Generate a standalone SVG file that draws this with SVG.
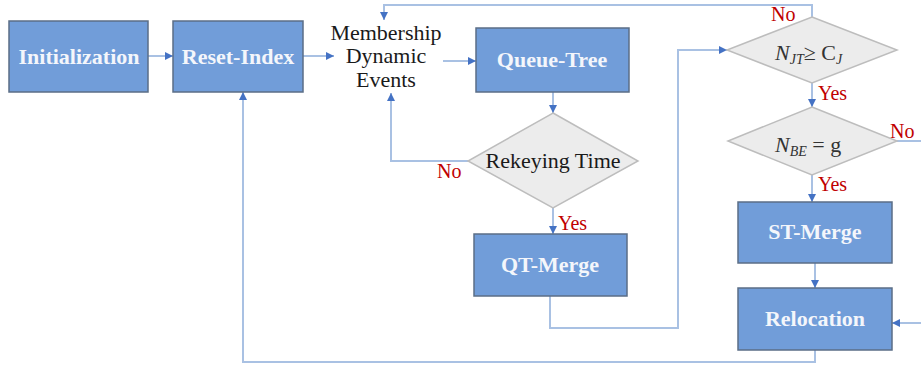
<svg xmlns="http://www.w3.org/2000/svg" width="921" height="367" viewBox="0 0 921 367">
<style>
.box{fill:#719dd9;stroke:#5b6e86;stroke-width:1.5}
.dia{fill:#ececec;stroke:#bdbdbd;stroke-width:1.5}
.bt{font-family:'Liberation Serif','Times New Roman','DejaVu Serif',serif;font-weight:bold;font-size:22px;fill:#f4f6fb;text-anchor:middle}
.nt{font-family:'Liberation Serif','Times New Roman','DejaVu Serif',serif;font-size:22px;fill:#1a1a1a;text-anchor:middle}
.lab{font-family:'Liberation Serif','Times New Roman','DejaVu Serif',serif;font-size:20px;fill:#c00000}
.ln{fill:none;stroke:#a9c1e3;stroke-width:2}
.mt{font-family:'Liberation Serif','Times New Roman','DejaVu Serif',serif;font-size:22px;font-style:italic;fill:#333}
</style>
<defs>
<marker id="ah" viewBox="0 0 10 10" refX="10" refY="5" markerWidth="9" markerHeight="8" markerUnits="userSpaceOnUse" orient="auto">
<path d="M0,0 L10,5 L0,10 z" fill="#4472c4"/>
</marker>
</defs>
<g id="connectors">
<path class="ln" d="M148,56 L173,56" marker-end="url(#ah)"/>
<path class="ln" d="M303,56 L334,56" marker-end="url(#ah)"/>
<path class="ln" d="M443,61 L476,61" marker-end="url(#ah)"/>
<path class="ln" d="M553,92 L553,113" marker-end="url(#ah)"/>
<path class="ln" d="M468,161 L391,161 L391,93" marker-end="url(#ah)"/>
<path class="ln" d="M553,208 L553,234" marker-end="url(#ah)"/>
<path class="ln" d="M550,296 L550,328 L678,328 L678,50 L727,50" marker-end="url(#ah)"/>
<path class="ln" d="M812,17 L812,5 L384,5 L384,20" marker-end="url(#ah)"/>
<path class="ln" d="M812,83 L812,107" marker-end="url(#ah)"/>
<path class="ln" d="M812,175 L812,202" marker-end="url(#ah)"/>
<path class="ln" d="M897,141 L923,141"/>
<path class="ln" d="M923,323 L892,323" marker-end="url(#ah)"/>
<path class="ln" d="M815,263 L815,288" marker-end="url(#ah)"/>
<path class="ln" d="M815,350 L815,362 L243,362 L243,92" marker-end="url(#ah)"/>
<text class="lab" x="437" y="178">No</text>
<text class="lab" x="558" y="230">Yes</text>
<text class="lab" x="771" y="21">No</text>
<text class="lab" x="818" y="100">Yes</text>
<text class="lab" x="890" y="138">No</text>
<text class="lab" x="818" y="191">Yes</text>
</g>
<g id="initialization">
<rect class="box" x="9" y="21" width="139" height="71"/>
<text class="bt" x="79" y="64">Initialization</text>
</g>
<g id="reset-index">
<rect class="box" x="173" y="21" width="130" height="71"/>
<text class="bt" x="238" y="64">Reset-Index</text>
</g>
<g id="membership">
<text class="nt" x="386" y="40">Membership</text>
<text class="nt" x="386" y="63">Dynamic</text>
<text class="nt" x="386" y="87">Events</text>
</g>
<g id="queue-tree">
<rect class="box" x="476" y="28" width="153" height="64"/>
<text class="bt" x="552" y="67">Queue-Tree</text>
</g>
<g id="rekeying">
<polygon class="dia" points="553,113 638,161 553,208 468,161"/>
<text class="nt" x="553" y="168">Rekeying Time</text>
</g>
<g id="qt-merge">
<rect class="box" x="474" y="234" width="153" height="62"/>
<text class="bt" x="550" y="272">QT-Merge</text>
</g>
<g id="njt">
<polygon class="dia" points="812,17 897,50 812,83 727,50"/>
<text class="mt" x="775" y="60">N<tspan font-size="14" dy="4">JT</tspan><tspan dy="-4" font-style="normal">≥ C</tspan><tspan font-size="14" dy="4">J</tspan></text>
</g>
<g id="nbe">
<polygon class="dia" points="812,107 897,141 812,175 728,141"/>
<text class="mt" x="775" y="152">N<tspan font-size="14" dy="4">BE</tspan><tspan dy="-4" font-style="normal"> = g</tspan></text>
</g>
<g id="st-merge">
<rect class="box" x="738" y="202" width="154" height="61"/>
<text class="bt" x="815" y="239">ST-Merge</text>
</g>
<g id="relocation">
<rect class="box" x="738" y="288" width="154" height="62"/>
<text class="bt" x="815" y="326">Relocation</text>
</g>
</svg>
